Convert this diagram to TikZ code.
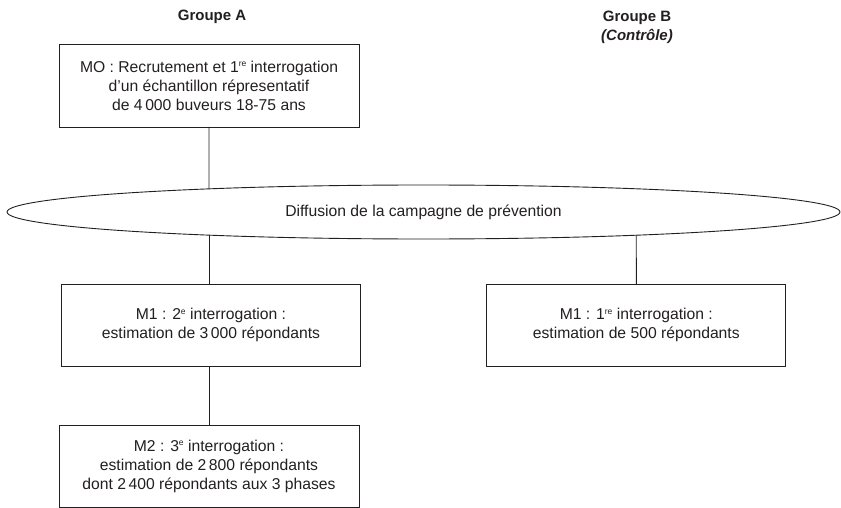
\documentclass[tikz,border=0pt]{standalone}
\usepackage{fontspec}
\setmainfont{Liberation Sans}
\usetikzlibrary{shapes.geometric,intersections}
\definecolor{ink}{HTML}{231F20}
\newcommand{\supx}[1]{\raisebox{0.62ex}{\fontsize{8.5}{9}\selectfont #1}}
\begin{document}
\begin{tikzpicture}[x=1pt,y=-1pt,
  every node/.style={text=ink, font=\fontsize{15.7}{19}\selectfont},
  boxnode/.style={draw=ink, line width=0.9pt, rectangle, align=center, inner sep=0pt, outer sep=0pt},
  ellnode/.style={draw=ink, line width=0.9pt, ellipse, inner sep=0pt, outer sep=0pt, minimum width=833pt, minimum height=54pt},
  headnode/.style={align=center, inner sep=0pt, font=\fontsize{15}{19}\selectfont\bfseries},
  link/.style={draw=ink, line width=0.9pt}]
\useasboundingbox (0,0) rectangle (841,508);
\node[headnode] (ga) at (212,17) {Groupe A};
\node[headnode, anchor=north] (gb) at (637,11) {Groupe B\\[0pt]\textit{(Contrôle)}};
\node[boxnode, minimum width=300pt, minimum height=83pt] (mo) at (209,85.5)
  {MO : Recrutement et 1\supx{re} interrogation\\d’un échantillon répresentatif\\de 4\,000 buveurs 18-75 ans};
\node[ellnode, name path=ellp] (ell) at (423.5,212) {Diffusion de la campagne de prévention};
\node[boxnode, minimum width=299pt, minimum height=81.3pt] (m1a) at (211,325.3)
  {M1 : 2\supx{e} interrogation :\\estimation de 3\,000 répondants};
\node[boxnode, minimum width=299pt, minimum height=81.3pt] (m1b) at (636.3,325.3)
  {M1 : 1\supx{re} interrogation :\\estimation de 500 répondants};
\node[boxnode, minimum width=300pt, minimum height=82pt] (m2) at (209,466)
  {M2 : 3\supx{e} interrogation :\\estimation de 2\,800 répondants\\dont 2\,400 répondants aux 3 phases};
\path[name path=vA] (mo.south) -- (mo.south |- m2.north);
\path[name path=vB] (m1b.north) -- (m1b.north |- mo.south);
\path[name intersections={of=ellp and vA, by={eAt,eAb}}];
\path[name intersections={of=ellp and vB, by={eBt,eBb}}];
\coordinate (eAtop) at (eAt |- ell.center);
\draw[link] (mo.south) -- (eAt);
\draw[link] (eAb) -- (eAb |- m1a.north);
\draw[link] (eBb) -- (m1b.north);
\draw[link] (m2.north |- m1a.south) -- (m2.north);
\end{tikzpicture}
\end{document}
